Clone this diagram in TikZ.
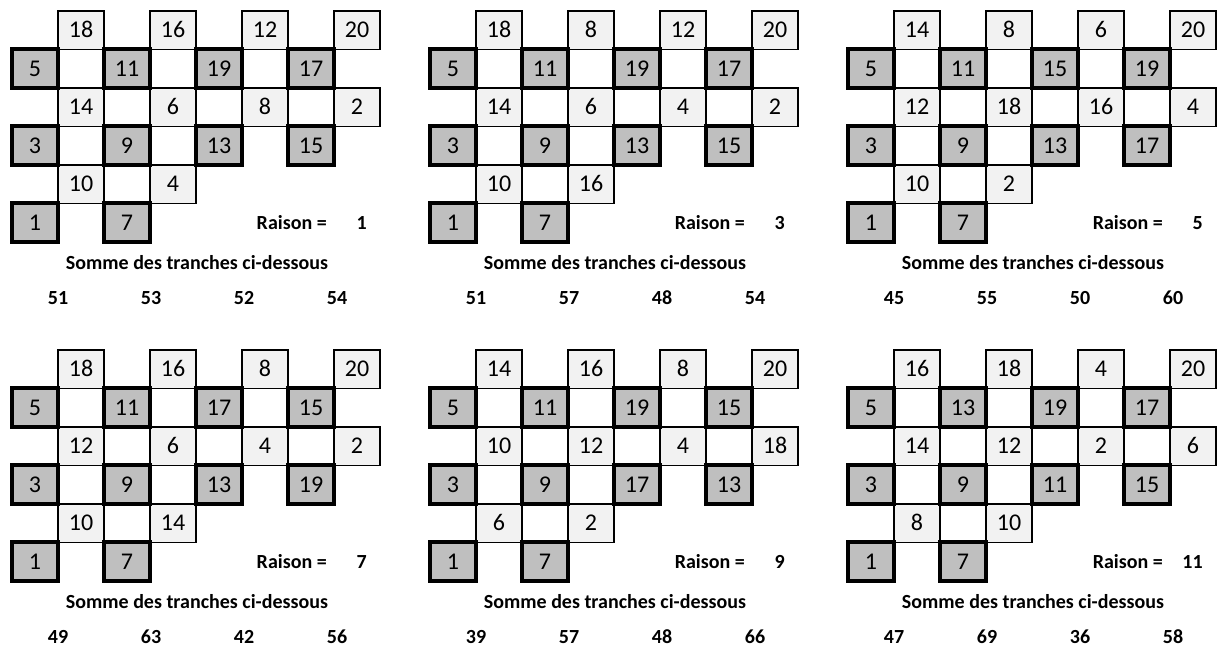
\documentclass[tikz,border=0pt]{standalone}
\usepackage{fontspec}
\setmainfont{Carlito}
\usetikzlibrary{positioning}

\newcounter{pan}
\tikzset{
  case/.style={minimum width=34.5pt, minimum height=28.9pt, inner sep=0pt, outer sep=0pt,
    text height=11.4pt, text depth=0pt, font=\fontsize{18}{21}\selectfont},
  clair/.style={case, draw, fill=black!5, line width=1.3pt},
  fonce/.style={case, draw, fill=black!25, line width=3pt},
  legende/.style={inner sep=0pt, font=\fontsize{15}{18}\selectfont\bfseries},
}

% #1 decalage, #2..#7 lignes, #8 raison, #9 sommes
\newcommand{\panneau}[9]{%
  \stepcounter{pan}%
  \begin{scope}[shift={(#1)}]
    % lignes claires
    \foreach \v [count=\i] in {#2} \node[clair] (p\thepan-a\i) at ({12+46*(2*\i-0.5)}, 30.25) {\v};
    \foreach \v [count=\i] in {#4} \node[clair] (p\thepan-c\i) at ({12+46*(2*\i-0.5)}, 107.25) {\v};
    \foreach \v [count=\i] in {#6} \node[clair] (p\thepan-e\i) at ({12+46*(2*\i-0.5)}, 184.25) {\v};
    % lignes foncees
    \foreach \v [count=\i] in {#3} \node[fonce] (p\thepan-b\i) at ({12+46*(2*\i-1.5)}, 68.75) {\v};
    \foreach \v [count=\i] in {#5} \node[fonce] (p\thepan-d\i) at ({12+46*(2*\i-1.5)}, 145.75) {\v};
    \foreach \v [count=\i] in {#7} \node[fonce] (p\thepan-f\i) at ({12+46*(2*\i-1.5)}, 222.75) {\v};
    % raison et sommes
    \node[legende, anchor=base east] (p\thepan-rl) at (327, 229) {Raison =};
    \node[legende, anchor=base east] (p\thepan-rv) at (367, 229) {#8};
    \node[legende, anchor=base] (p\thepan-so) at (197, 269) {Somme des tranches ci-dessous};
    \foreach \s [count=\i] in {#9} \node[legende, anchor=base] (p\thepan-s\i) at ({58+93*(\i-1)}, 304) {\s};
  \end{scope}
}

\begin{document}
\begin{tikzpicture}[x=0.75pt, y=-0.75pt]
  \useasboundingbox (0,0) rectangle (1223,646);
  % ligne du haut
  \panneau{0,0}{18,16,12,20}{5,11,19,17}{14,6,8,2}{3,9,13,15}{10,4}{1,7}{1}{51,53,52,54}
  \panneau{418,0}{18,8,12,20}{5,11,19,17}{14,6,4,2}{3,9,13,15}{10,16}{1,7}{3}{51,57,48,54}
  \panneau{836,0}{14,8,6,20}{5,11,15,19}{12,18,16,4}{3,9,13,17}{10,2}{1,7}{5}{45,55,50,60}
  % ligne du bas
  \panneau{0,339}{18,16,8,20}{5,11,17,15}{12,6,4,2}{3,9,13,19}{10,14}{1,7}{7}{49,63,42,56}
  \panneau{418,339}{14,16,8,20}{5,11,19,15}{10,12,4,18}{3,9,17,13}{6,2}{1,7}{9}{39,57,48,66}
  \panneau{836,339}{16,18,4,20}{5,13,19,17}{14,12,2,6}{3,9,11,15}{8,10}{1,7}{11}{47,69,36,58}
\end{tikzpicture}
\end{document}
